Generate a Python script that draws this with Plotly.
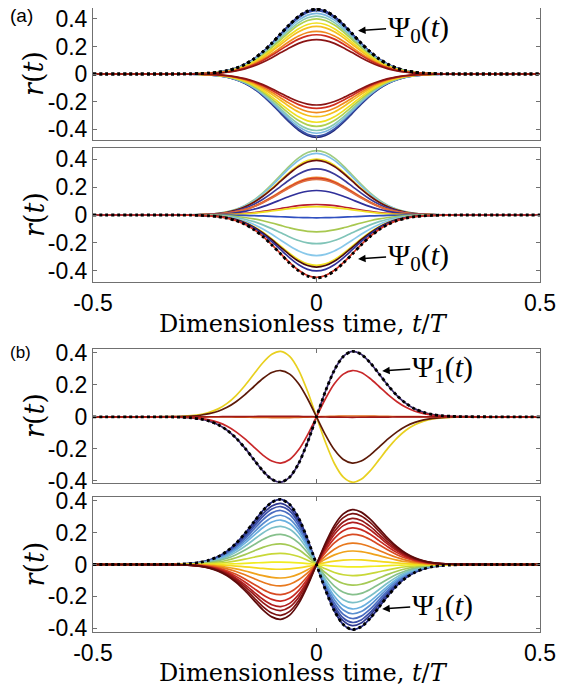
import plotly.graph_objects as go

# time axis (t/T) and the two pulse shapes (peak normalised to 1)
t = [-0.5, -0.4, -0.32, -0.30, -0.28, -0.26, -0.24, -0.22, -0.20, -0.18, -0.16, -0.14,
     -0.12, -0.10, -0.08, -0.06, -0.04, -0.02, 0.0, 0.02, 0.04, 0.06, 0.08, 0.10, 0.12,
     0.14, 0.16, 0.18, 0.20, 0.22, 0.24, 0.26, 0.28, 0.30, 0.32, 0.4, 0.5]
psi0_shape = [0, 0, 0, 0.001, 0.003, 0.007, 0.014, 0.027, 0.051, 0.090, 0.149, 0.233,
              0.343, 0.475, 0.621, 0.765, 0.888, 0.971, 1.0, 0.971, 0.888, 0.765, 0.621,
              0.475, 0.343, 0.233, 0.149, 0.090, 0.051, 0.027, 0.014, 0.007, 0.003, 0.001,
              0, 0, 0]
psi1_shape = [0, 0, -0.003, -0.008, -0.017, -0.034, -0.067, -0.121, -0.205, -0.325, -0.479,
              -0.655, -0.827, -0.956, -1.0, -0.923, -0.714, -0.390, 0.0, 0.390, 0.714, 0.923,
              1.0, 0.956, 0.827, 0.655, 0.479, 0.325, 0.205, 0.121, 0.067, 0.034, 0.017,
              0.008, 0.003, 0, 0]

# panel (a) top
p1_amps_up = [0.47, 0.46, 0.44, 0.42, 0.40, 0.37, 0.345, 0.31, 0.285, 0.25]
p1_amps_dn = [-0.46, -0.45, -0.43, -0.41, -0.38, -0.35, -0.31, -0.28, -0.25, -0.225]
p1_colors = ["#23287a", "#3a53a8", "#7ab8e0", "#88c8b0", "#b0d050", "#f0e020",
             "#f5c020", "#f08a1e", "#d03020", "#8a1414"]
p1_psi = 0.47

# panel (a) bottom
p2_amps = [0.46, 0.44, 0.40, 0.39, 0.33, 0.27, 0.262, 0.255, 0.175, 0.075, 0.06, -0.02,
           -0.12, -0.205, -0.29, -0.36, -0.372, -0.40, -0.445]
p2_colors = ["#a0cc80", "#80c0e8", "#f0e020", "#6a0f0f", "#3a3a9a", "#f08a30", "#d03020",
             "#e07040", "#30309a", "#b81c30", "#f0e020", "#3050c0", "#a8c850", "#80c4b8",
             "#88c8ea", "#f0e020", "#4a0c0c", "#30309a", "#d03020"]
p2_psi = -0.45

# panel (b) top
p3_amps = [0.41, -0.41, -0.29, 0.29, 0.005, -0.003]
p3_colors = ["#3a2a6a", "#e8d020", "#5c1a08", "#c8282a", "#e07020", "#a01818"]
p3_psi = 0.41

# panel (b) bottom
p4_amps = [-0.41, -0.385, -0.365, -0.34, -0.31, -0.28, -0.24, -0.19, -0.13, -0.07, -0.015,
           0.03, 0.085, 0.135, 0.19, 0.23, 0.265, 0.29, 0.32, 0.345]
p4_colors = ["#23287a", "#2e3890", "#3a4fa8", "#4a6cc0", "#5a8fd0", "#6ab0e0", "#7cc0c8",
             "#86c08c", "#a5ca55", "#c8d838", "#f0ec20", "#f4d81c", "#f0a21c", "#e8791e",
             "#d84a22", "#c82a22", "#b01e1e", "#951818", "#7a1010", "#5e0b0b"]
p4_psi = -0.41

fig = go.Figure()


def add_family(n, amps, colors, shape, psi_amp):
    for a, c in zip(amps, colors):
        fig.add_trace(go.Scatter(x=t, y=[a * v for v in shape], mode="lines",
                                 line=dict(color=c, width=1.7, shape="spline", smoothing=0.8),
                                 xaxis="x%d" % n, yaxis="y%d" % n, hoverinfo="skip"))
    fig.add_trace(go.Scatter(x=t, y=[psi_amp * v for v in shape], mode="lines",
                             line=dict(color="black", width=2.8, dash="dot", shape="spline",
                                       smoothing=0.8),
                             xaxis="x%d" % n, yaxis="y%d" % n, hoverinfo="skip"))


add_family(1, p1_amps_up, p1_colors, psi0_shape, p1_psi)
add_family(1, p1_amps_dn, p1_colors, psi0_shape, p1_psi)
add_family(2, p2_amps, p2_colors, psi0_shape, p2_psi)
add_family(3, p3_amps, p3_colors, psi1_shape, p3_psi)
add_family(4, p4_amps, p4_colors, psi1_shape, p4_psi)

# the page body adds an 8px margin, so the figure is laid out 8px smaller/shifted
W, HT = 562, 680
L = 85
PW = 447.0
H = 624.0  # plot area height (top of panel a at 0, bottom of last panel at 624)
domains = [(0, 132), (140, 274), (341, 475), (489, 624)]
yranges = [[-0.479, 0.479], [-0.479, 0.479], [-0.415, 0.425], [-0.425, 0.425]]


def px(fx):
    return (fx - L) / PW


def py(fy):
    return (H - fy) / H


tick_font = dict(family="Liberation Sans, Arial", size=23, color="black")
axis_common = dict(showline=True, mirror="ticks", linecolor="#707070", linewidth=1,
                   ticks="inside", ticklen=4, tickcolor="#707070", showgrid=False,
                   zeroline=False, tickfont=tick_font, automargin=False,
                   ticklabeloverflow="allow")

layout = dict(width=W, height=HT, showlegend=False, plot_bgcolor="white",
              paper_bgcolor="white", margin=dict(l=L, r=W - L - PW, t=0, b=HT - H))
for i, (top, bot) in enumerate(domains, start=1):
    sfx = "" if i == 1 else str(i)
    layout["xaxis" + sfx] = dict(axis_common, domain=[0, 1], range=[-0.5, 0.5],
                                 anchor="y" + sfx, tickvals=[-0.5, 0, 0.5],
                                 ticktext=["-0.5", "0", "0.5"],
                                 showticklabels=(i in (2, 4)))
    layout["yaxis" + sfx] = dict(axis_common, domain=[py(bot), py(top)],
                                 range=yranges[i - 1], anchor="x" + sfx,
                                 tickvals=[-0.4, -0.2, 0, 0.2, 0.4],
                                 ticktext=["-0.4", "-0.2", "0", "0.2", "0.4"])
fig.update_layout(**layout)

serif = "DejaVu Serif, Liberation Serif, serif"
ann = []
# r(t) labels
for top, bot in domains:
    ann.append(dict(text="<i>r</i>(<i>t</i>)", xref="paper", yref="paper",
                    x=px(26), y=py((top + bot) / 2.0), showarrow=False,
                    textangle=-90, font=dict(family=serif, size=27, color="black"),
                    xanchor="center", yanchor="middle"))
# x-axis titles
for fy in (316, 665):
    ann.append(dict(text="Dimensionless time, <i>t</i>/<i>T</i>", xref="paper", yref="paper",
                    x=px(295), y=py(fy), showarrow=False,
                    font=dict(family=serif, size=24, color="black"),
                    xanchor="center", yanchor="middle"))
# panel letters
ann.append(dict(text="(a)", xref="paper", yref="paper", x=px(0), y=py(8), showarrow=False,
                font=dict(family="Liberation Sans, Arial", size=19, color="black"),
                xanchor="left", yanchor="middle"))
ann.append(dict(text="(b)", xref="paper", yref="paper", x=px(0), y=py(344), showarrow=False,
                font=dict(family="Liberation Sans, Arial", size=17, color="black"),
                xanchor="left", yanchor="middle"))
# Psi labels with arrows
psi_labels = [("1", 0.093, 0.314, "Ψ<sub>0</sub>(<i>t</i>)"),
              ("2", 0.093, -0.314, "Ψ<sub>0</sub>(<i>t</i>)"),
              ("3", 0.147, 0.2875, "Ψ<sub>1</sub>(<i>t</i>)"),
              ("4", 0.147, -0.28, "Ψ<sub>1</sub>(<i>t</i>)")]
for n, xh, yh, txt in psi_labels:
    sfx = "" if n == "1" else n
    ann.append(dict(text=txt, xref="x" + sfx, yref="y" + sfx, x=xh, y=yh,
                    ax=28, ay=-2, xanchor="left", yanchor="middle", showarrow=True,
                    arrowhead=2, arrowsize=1, arrowwidth=1.5, arrowcolor="black",
                    font=dict(family="Liberation Serif, serif", size=30, color="black")))
fig.update_layout(annotations=ann)

fig.write_html("out.html")
